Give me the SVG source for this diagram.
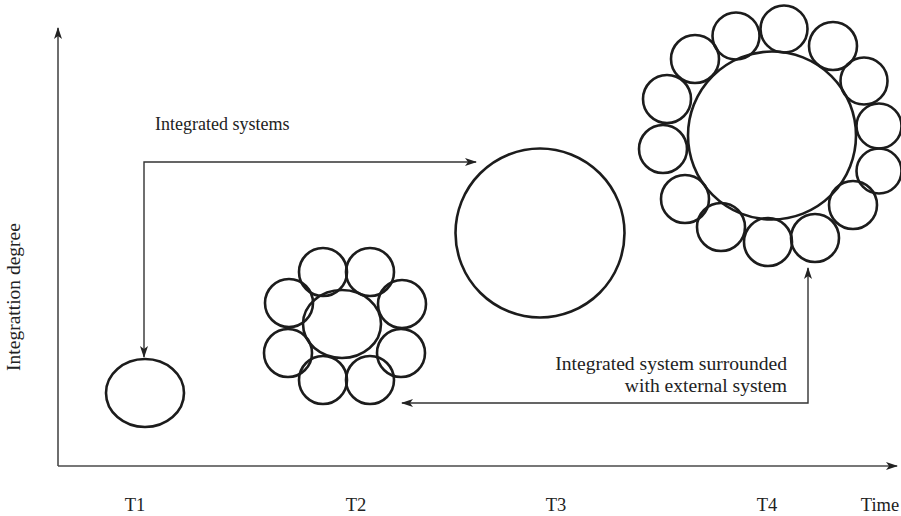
<svg xmlns="http://www.w3.org/2000/svg" width="901" height="516" viewBox="0 0 901 516">
<defs>
<style>
.sys{fill:none;stroke:#1c1c1c;stroke-width:2.6}
.ax{fill:none;stroke:#4a4a4a;stroke-width:1.6}
.con{fill:none;stroke:#333;stroke-width:1.4}
text{font-family:"Liberation Serif","Times New Roman",serif;font-size:18.5px;fill:#222}
.big{font-size:19.6px}
</style>
<marker id="ah" viewBox="0 0 12 8" refX="11" refY="4" markerWidth="12" markerHeight="8" markerUnits="userSpaceOnUse" orient="auto-start-reverse">
<path d="M0,0 L12,4 L0,8 L3,4 z" fill="#222"/>
</marker>
</defs>
<rect width="901" height="516" fill="#fff"/>
<g id="axes">
<path class="ax" d="M58,466 V28" marker-end="url(#ah)"/>
<path class="ax" d="M58,466 H897" marker-end="url(#ah)"/>
<text transform="translate(20,297) rotate(-90)" text-anchor="middle" style="font-size:19.5px">Integrattion degree</text>
<text x="135" y="511" text-anchor="middle">T1</text>
<text x="356" y="511" text-anchor="middle">T2</text>
<text x="556" y="511" text-anchor="middle">T3</text>
<text x="767" y="511" text-anchor="middle">T4</text>
<text x="880" y="511" text-anchor="middle">Time</text>
</g>
<g id="connectors">
<path class="con" d="M476,162 H144 V357" marker-start="url(#ah)" marker-end="url(#ah)"/>
<path class="con" d="M402,403 H808 V268" marker-start="url(#ah)" marker-end="url(#ah)"/>
<text x="155" y="130" style="font-size:18px">Integrated systems</text>
<text class="big" x="787" y="370" text-anchor="end">Integrated system surrounded</text>
<text class="big" x="787" y="392" text-anchor="end">with external system</text>
</g>
<g id="t1">
<ellipse class="sys" cx="145" cy="393" rx="39" ry="34"/>
</g>
<g id="t2">
<circle class="sys" cx="323" cy="272" r="24"/>
<circle class="sys" cx="370" cy="272" r="24"/>
<circle class="sys" cx="289" cy="303" r="24"/>
<circle class="sys" cx="402" cy="304" r="24"/>
<circle class="sys" cx="288" cy="353" r="24"/>
<circle class="sys" cx="401" cy="353" r="24"/>
<circle class="sys" cx="323" cy="380" r="24"/>
<circle class="sys" cx="370" cy="380" r="24"/>
<ellipse class="sys" cx="342" cy="324" rx="39" ry="34"/>
</g>
<g id="t3">
<circle class="sys" cx="540" cy="233" r="84.5"/>
</g>
<g id="t4">
<circle class="sys" cx="695" cy="59" r="24"/>
<circle class="sys" cx="736" cy="36" r="23.5"/>
<circle class="sys" cx="784" cy="29" r="23.5"/>
<circle class="sys" cx="833" cy="46" r="24"/>
<circle class="sys" cx="864" cy="81" r="23.5"/>
<circle class="sys" cx="879" cy="126" r="22.5"/>
<circle class="sys" cx="879" cy="171" r="22.5"/>
<circle class="sys" cx="853" cy="205" r="24"/>
<circle class="sys" cx="815" cy="238" r="24"/>
<circle class="sys" cx="768" cy="242" r="24"/>
<circle class="sys" cx="721" cy="227" r="24"/>
<circle class="sys" cx="685" cy="199" r="24"/>
<circle class="sys" cx="663" cy="149" r="24"/>
<circle class="sys" cx="667" cy="99" r="24"/>
<circle class="sys" cx="772" cy="135.5" r="84"/>
</g>
</svg>
